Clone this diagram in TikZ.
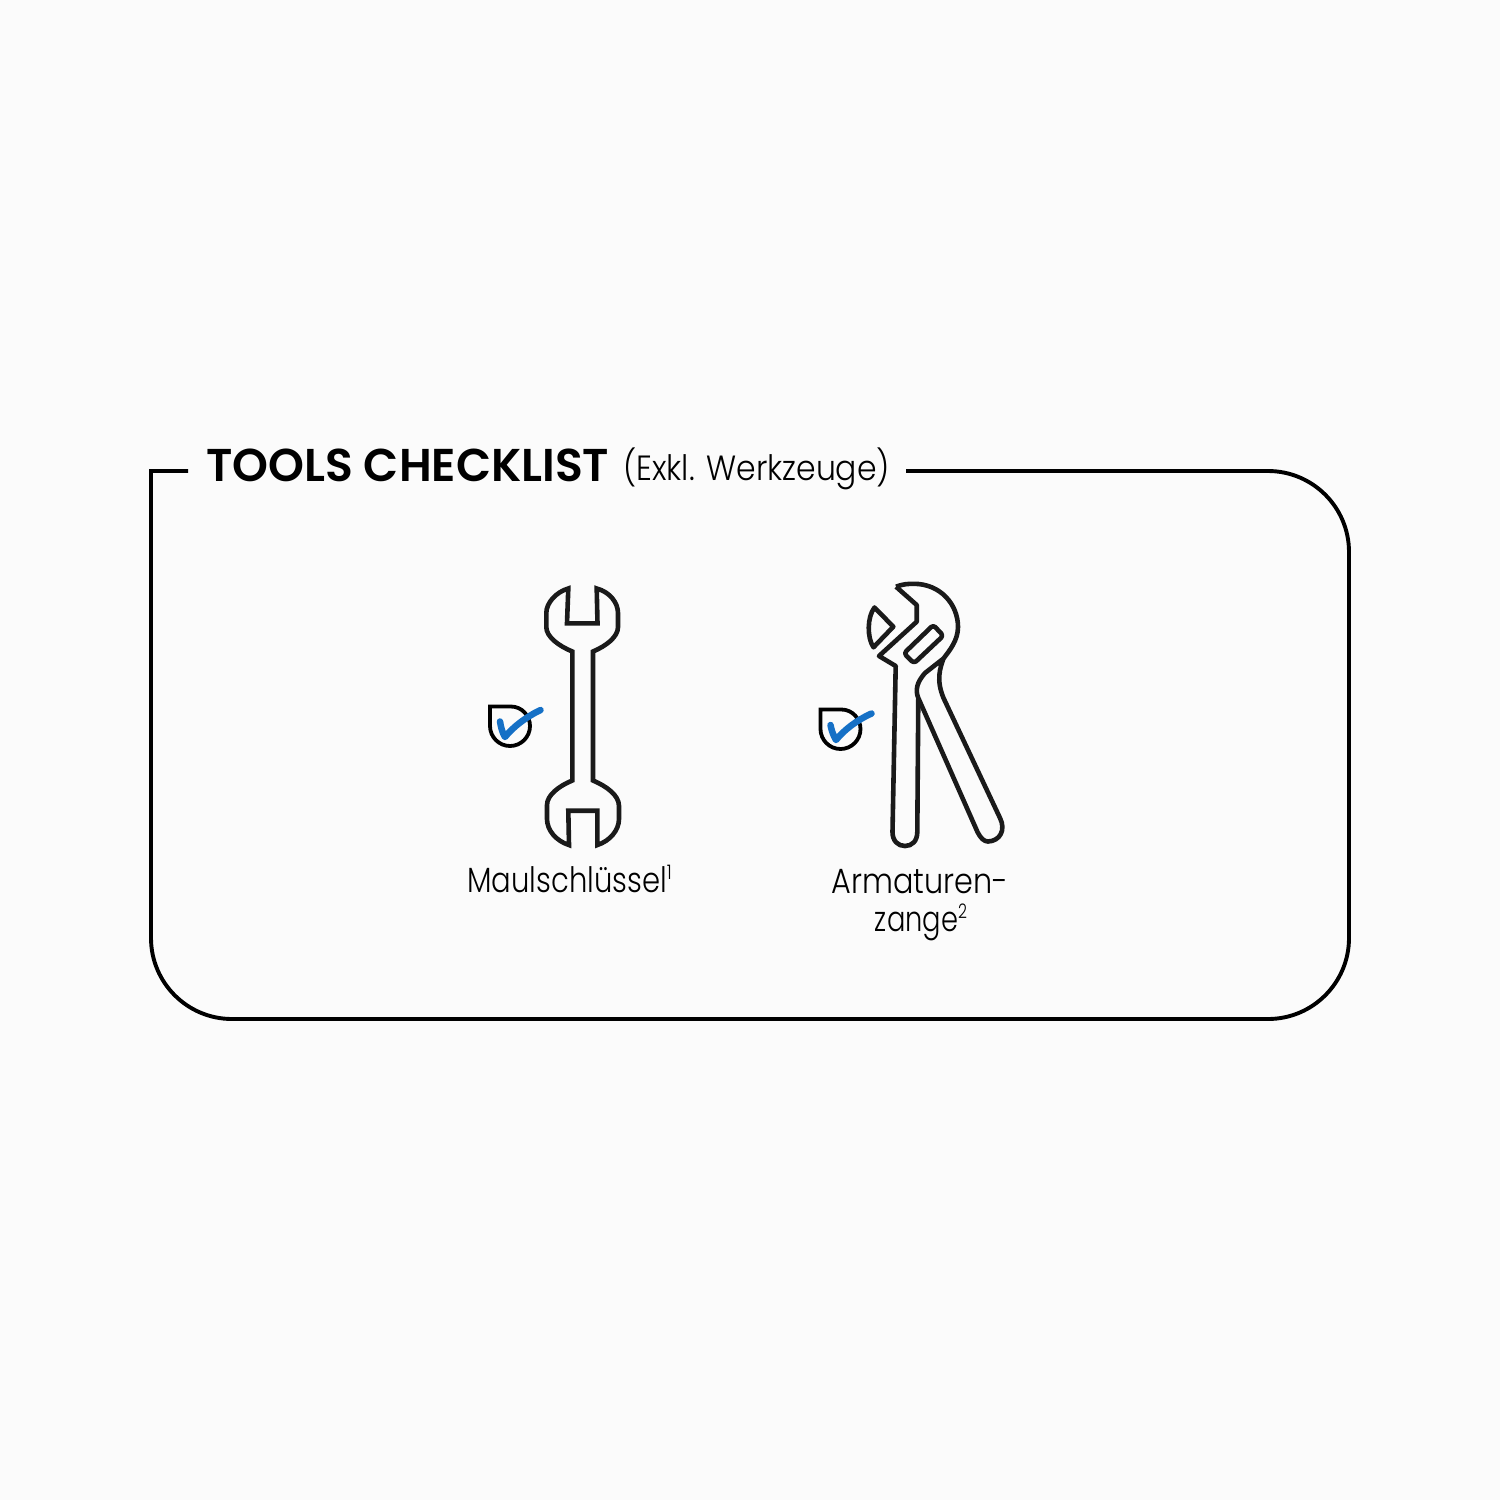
\documentclass[tikz,border=0pt]{standalone}
\usepackage{fontspec}
\setmainfont{Poppins}
\newfontfamily\titlefont[FakeStretch=0.993]{Poppins SemiBold}
\newfontfamily\subfont[FakeStretch=0.90]{Poppins Light}
\newfontfamily\maulfont[FakeStretch=0.83]{Poppins Light}
\newfontfamily\armfont[FakeStretch=0.865]{Poppins Light}
\newfontfamily\zangefont[FakeStretch=0.78]{Poppins Light}
\definecolor{bgc}{HTML}{FBFBFB}
\definecolor{inkc}{HTML}{1A1A1A}
\definecolor{checkc}{HTML}{1570C6}
\tikzset{
  framel/.style={draw=black,line width=3.9pt,line join=miter},
  toolline/.style={draw=inkc,line width=4.6pt,line join=round},
  shieldl/.style={draw=black,line width=3.8pt,line join=miter},
  checkl/.style={draw=checkc,line width=6.5pt,line cap=round,line join=round},
  titlet/.style={inner sep=0pt,anchor=base west,font=\titlefont\fontsize{46}{46}\selectfont},
  subt/.style={inner sep=0pt,anchor=base west,font=\subfont\fontsize{35}{35}\selectfont},
  mault/.style={inner sep=0pt,anchor=base,font=\maulfont\fontsize{35}{35}\selectfont},
  armt/.style={inner sep=0pt,anchor=base,font=\armfont\fontsize{35}{35}\selectfont},
  zanget/.style={inner sep=0pt,anchor=base,font=\zangefont\fontsize{35}{35}\selectfont},
}
\newcommand{\supnum}[1]{\raisebox{13pt}{\fontsize{20}{20}\selectfont #1}}
\begin{document}
\begin{tikzpicture}[x=1pt,y=-1pt]
\useasboundingbox (0,0) rectangle (1500,1500);
\fill[bgc] (0,0) rectangle (1500,1500);
% frame
\draw[framel] (188,471) -- (151,471) -- (151,938)
  arc[start angle=180,end angle=270,x radius=81,y radius=-81]
  -- (1268,1019)
  arc[start angle=270,end angle=360,x radius=81,y radius=-81]
  -- (1349,552)
  arc[start angle=0,end angle=90,x radius=81,y radius=-81]
  -- (906,471);
\node[titlet] (title) at (206,481) {TOOLS CHECKLIST};
\node[subt] (sub) at (623,480) {(Exkl. Werkzeuge)};
% wrench
\draw[toolline,line join=miter,miter limit=2] (568.3,588.5) -- (567,623.3) -- (597.5,623.3) -- (596.7,588.5)
  .. controls (610,592) and (618,603) .. (618,613) -- (618,627)
  .. controls (618,637) and (606,646) .. (593,651.5)
  -- (593,780.5)
  .. controls (606,786) and (619,795) .. (619,806) -- (619,819)
  .. controls (619,830) and (610,841) .. (597.3,845)
  -- (597.3,810.7) -- (568.3,810.7) -- (569,845)
  .. controls (556,841) and (547,830) .. (547,819) -- (547,805)
  .. controls (547,795) and (559,786) .. (572.3,780.5)
  -- (572.3,651.5)
  .. controls (559,646) and (546.3,637) .. (546.3,627) -- (546.3,613)
  .. controls (546.3,603) and (556,592) .. (568.3,588.5) -- cycle;
% shield 1
\draw[shieldl] (490,706.5) -- (511,706.5)
  .. controls (522,706.5) and (530,716) .. (530,726)
  .. controls (530,737) and (521,746) .. (510,746)
  .. controls (499,746) and (490,737) .. (490,726) -- cycle;
\draw[checkl] (500,721.5) .. controls (501,727) and (502,732) .. (505,737)
  .. controls (513,727) and (526,717) .. (540.5,710);
% pliers
\draw[toolline] (896,586.7)
  .. controls (903,584) and (908,583.8) .. (914,583.8)
  .. controls (940,583.8) and (958,604) .. (958,627)
  .. controls (958,640) and (950,650) .. (943.5,658.5)
  .. controls (940,668) and (936,680) .. (943.5,698)
  -- (1000,818)
  .. controls (1006,830) and (1000,841) .. (988,841.5)
  .. controls (984,841.5) and (980.5,838) .. (977.5,832)
  -- (918.3,698)
  .. controls (915,690) and (917,682) .. (925,673)
  -- (943.5,658.5);
\draw[toolline] (918.3,698) -- (917.3,832)
  .. controls (917.3,841) and (912,846) .. (905,846)
  .. controls (898,846) and (892.5,841) .. (892.5,832)
  -- (895.7,666) -- (879,656) -- (916.7,621.7) -- (916.7,605) -- (896,586.7);
% small jaw
\draw[toolline] (874.5,607.5) -- (893.3,626.7) -- (873.5,647.3)
  .. controls (867,638) and (867,617) .. (874.5,607.5) -- cycle;
% slot
\draw[toolline,rounded corners=3pt] (933.3,625) -- (943.3,635.7) -- (914,663.3) -- (904,653.3) -- cycle;
% shield 2
\draw[shieldl] (820.5,709.5) -- (841.5,709.5)
  .. controls (852.5,709.5) and (860.5,719) .. (860.5,729)
  .. controls (860.5,740) and (851.5,749) .. (840.5,749)
  .. controls (829.5,749) and (820.5,740) .. (820.5,729) -- cycle;
\draw[checkl] (830.5,725) .. controls (831.5,730) and (833,735) .. (836,740)
  .. controls (844,730) and (857,720) .. (871.5,713.5);
% labels
\node[mault] (maul) at (569.5,892) {Maulschlüssel\supnum{1}};
\node[armt] (arm) at (920,893) {Armaturen-};
\node[zanget] (zange) at (921,931) {zange\supnum{2}};
\end{tikzpicture}
\end{document}
